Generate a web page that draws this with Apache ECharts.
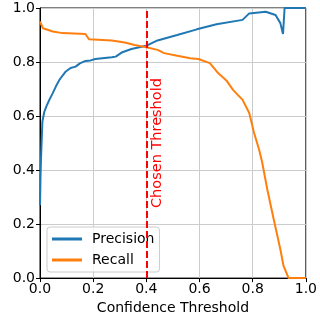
<!DOCTYPE html>
<html>
<head>
<meta charset="utf-8">
<script src="https://cdn.jsdelivr.net/npm/echarts@6/dist/echarts.min.js"></script>
<style>
  html, body { margin: 0; padding: 0; background: #fff; }
  #chart { width: 320px; height: 320px; }
</style>
</head>
<body>
<div id="chart"></div>
<script>
// precision / recall vs confidence threshold
const precisionX = [0, 0.002, 0.004, 0.009, 0.016, 0.024, 0.035, 0.048, 0.06, 0.073, 0.085, 0.097, 0.115, 0.134, 0.15, 0.171, 0.19, 0.208, 0.27, 0.285, 0.307, 0.344, 0.399, 0.442, 0.516, 0.59, 0.664, 0.762, 0.787, 0.849, 0.886, 0.904, 0.914, 0.92, 1.0];
const precisionY = [0.27, 0.38, 0.45, 0.58, 0.615, 0.636, 0.66, 0.685, 0.71, 0.734, 0.75, 0.765, 0.778, 0.783, 0.795, 0.804, 0.806, 0.811, 0.818, 0.82, 0.835, 0.848, 0.86, 0.88, 0.90, 0.921, 0.94, 0.956, 0.98, 0.986, 0.974, 0.944, 0.904, 1.0, 1.0];

const recallX = [0, 0.011, 0.048, 0.085, 0.171, 0.184, 0.27, 0.319, 0.356, 0.40, 0.442, 0.467, 0.516, 0.565, 0.596, 0.639, 0.67, 0.701, 0.726, 0.762, 0.787, 0.805, 0.824, 0.836, 0.855, 0.879, 0.904, 0.916, 0.935, 1.0];
const recallY = [0.95, 0.925, 0.913, 0.907, 0.904, 0.884, 0.88, 0.872, 0.863, 0.855, 0.845, 0.833, 0.823, 0.814, 0.811, 0.796, 0.759, 0.732, 0.697, 0.66, 0.611, 0.538, 0.476, 0.427, 0.328, 0.218, 0.107, 0.045, 0.0, 0.0];

const chosenThreshold = 0.4;
const tickStep = 0.2;

const font = 'DejaVu Sans';
const zip = (xs, ys) => xs.map((x, i) => [x, ys[i]]);

const chart = echarts.init(document.getElementById('chart'), null, { renderer: 'canvas' });

const axisCommon = {
  type: 'value',
  min: 0,
  max: 1,
  interval: tickStep,
  axisLine: { show: true, lineStyle: { color: '#000', width: 1 } },
  axisTick: { show: true, inside: false, length: 4, lineStyle: { color: '#000' } },
  axisLabel: {
    color: '#000',
    fontSize: 14,
    fontFamily: font,
    formatter: (v) => v.toFixed(1)
  },
  splitLine: { show: true, lineStyle: { color: '#cccccc', width: 1 } }
};

chart.setOption({
  animation: false,
  backgroundColor: '#fff',
  grid: {
    left: 40,
    top: 8,
    right: 9,
    bottom: 41,
    show: true,
    borderColor: '#000',
    borderWidth: 1
  },
  xAxis: {
    ...axisCommon,
    name: 'Confidence Threshold',
    nameLocation: 'middle',
    nameGap: 21,
    nameTextStyle: { color: '#000', fontSize: 14, fontFamily: font },
    axisLabel: { ...axisCommon.axisLabel, margin: 4 }
  },
  yAxis: {
    ...axisCommon,
    axisLabel: { ...axisCommon.axisLabel, margin: 5 }
  },
  legend: {
    orient: 'vertical',
    left: 47,
    top: 227,
    padding: [5, 5, 5, 5],
    itemGap: 7,
    itemWidth: 30,
    itemHeight: 3,
    icon: 'rect',
    borderColor: '#cccccc',
    borderWidth: 1,
    borderRadius: 3,
    backgroundColor: 'rgba(255,255,255,0.8)',
    textStyle: { color: '#000', fontSize: 14, fontFamily: font, padding: [0, 0, 0, 5] },
    data: ['Precision', 'Recall']
  },
  series: [
    {
      name: 'Precision',
      type: 'line',
      data: zip(precisionX, precisionY),
      showSymbol: false,
      color: '#1f77b4',
      lineStyle: { color: '#1f77b4', width: 2 },
      z: 2
    },
    {
      name: 'Recall',
      type: 'line',
      data: zip(recallX, recallY),
      showSymbol: false,
      color: '#ff7f0e',
      lineStyle: { color: '#ff7f0e', width: 2 },
      z: 3,
      markLine: {
        silent: true,
        symbol: 'none',
        animation: false,
        lineStyle: { color: '#ff0000', type: [7, 3], width: 2 },
        label: {
          show: true,
          position: 'insideMiddleBottom',
          formatter: 'Chosen Threshold',
          color: '#ff0000',
          fontSize: 14.5,
          fontFamily: font,
          distance: 3
        },
        data: [{ xAxis: chosenThreshold }]
      }
    }
  ]
});
</script>
</body>
</html>
